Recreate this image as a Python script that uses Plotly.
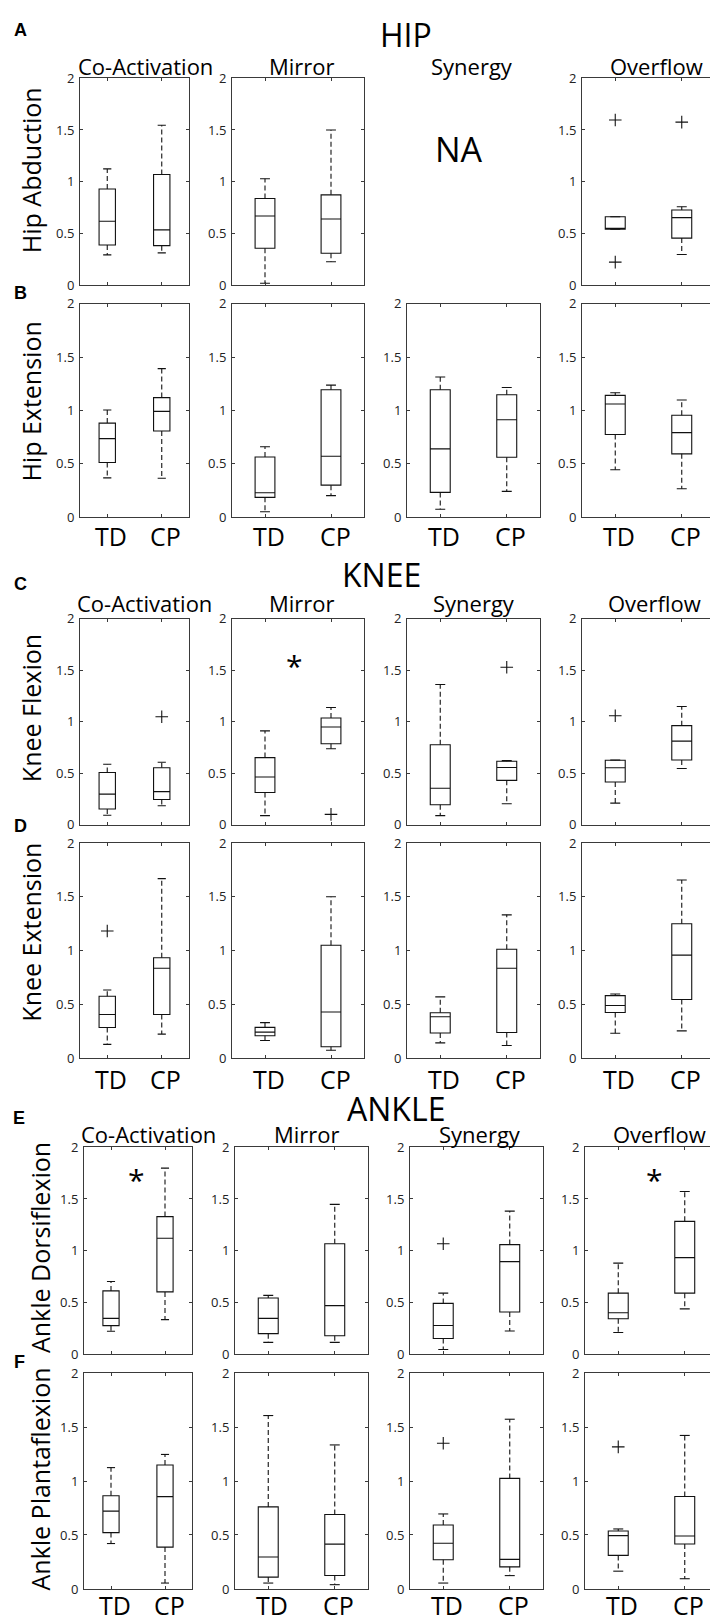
import plotly.graph_objects as go

W, H = 710, 1624

# ---------------- data ----------------
columns = ["Co-Activation", "Mirror", "Synergy", "Overflow"]
groups = ["TD", "CP"]
row_labels = ["Hip Abduction", "Hip Extension", "Knee Flexion",
              "Knee Extension", "Ankle Dorsiflexion", "Ankle Plantaflexion"]
panel_letters = ["A", "B", "C", "D", "E", "F"]
sections = ["HIP", "KNEE", "ANKLE"]
y_ticks = [0, 0.5, 1, 1.5, 2]
y_tick_text = ["0", "0.5", "1", "1.5", "2"]

# per column: [TD stats, CP stats]; stats = [lower whisker, q1, median, q3, upper whisker]
hip_abduction = [
    [[0.293, 0.389, 0.618, 0.930, 1.124], [0.312, 0.382, 0.535, 1.070, 1.545]],
    [[0.019, 0.357, 0.669, 0.838, 1.029], [0.226, 0.309, 0.640, 0.873, 1.500]],
    None,
    [[0.541, 0.541, 0.541, 0.662, 0.662], [0.296, 0.455, 0.653, 0.726, 0.758]],
]
hip_abduction_out = [[[], []], [[], []], None, [[1.596, 0.223], [1.576]]]

hip_extension = [
    [[0.369, 0.513, 0.737, 0.882, 1.005], [0.366, 0.808, 0.992, 1.121, 1.392]],
    [[0.052, 0.187, 0.230, 0.565, 0.661], [0.203, 0.301, 0.571, 1.195, 1.238]],
    [[0.075, 0.233, 0.641, 1.194, 1.313], [0.243, 0.563, 0.914, 1.148, 1.216]],
    [[0.445, 0.775, 1.061, 1.142, 1.166], [0.267, 0.594, 0.793, 0.955, 1.098]],
]
hip_extension_out = [[[], []], [[], []], [[], []], [[], []]]

knee_flexion = [
    [[0.093, 0.154, 0.298, 0.509, 0.589], [0.186, 0.246, 0.323, 0.554, 0.608]],
    [[0.090, 0.314, 0.464, 0.653, 0.912], [0.739, 0.787, 0.950, 1.037, 1.139]],
    [[0.090, 0.195, 0.355, 0.778, 1.363], [0.205, 0.432, 0.557, 0.618, 0.624]],
    [[0.211, 0.416, 0.554, 0.627, 0.630], [0.547, 0.630, 0.813, 0.963, 1.149]],
]
knee_flexion_out = [[[], [1.050]], [[], [0.102]], [[], [1.530]], [[1.059], []]]

knee_extension = [
    [[0.129, 0.285, 0.407, 0.576, 0.634], [0.224, 0.407, 0.836, 0.934, 1.669]],
    [[0.165, 0.209, 0.243, 0.287, 0.331], [0.074, 0.107, 0.429, 1.050, 1.500]],
    [[0.143, 0.235, 0.386, 0.423, 0.570], [0.119, 0.239, 0.836, 1.013, 1.332]],
    [[0.232, 0.425, 0.490, 0.582, 0.597], [0.254, 0.545, 0.958, 1.249, 1.656]],
]
knee_extension_out = [[[1.182], []], [[], []], [[], []], [[], []]]

ankle_dorsiflexion = [
    [[0.222, 0.276, 0.346, 0.612, 0.702], [0.334, 0.602, 1.120, 1.330, 1.798]],
    [[0.114, 0.199, 0.346, 0.543, 0.569], [0.114, 0.178, 0.470, 1.067, 1.448]],
    [[0.046, 0.152, 0.278, 0.491, 0.590], [0.225, 0.408, 0.895, 1.059, 1.383]],
    [[0.210, 0.343, 0.400, 0.590, 0.880], [0.438, 0.590, 0.933, 1.284, 1.573]],
]
ankle_dorsiflexion_out = [[[], []], [[], []], [[1.067], []], [[], []]]

ankle_plantaflexion = [
    [[0.421, 0.522, 0.721, 0.864, 1.124], [0.055, 0.388, 0.855, 1.148, 1.246]],
    [[0.055, 0.110, 0.296, 0.760, 1.606], [0.040, 0.125, 0.415, 0.690, 1.334]],
    [[0.055, 0.271, 0.424, 0.592, 0.695], [0.124, 0.205, 0.274, 1.024, 1.572]],
    [[0.165, 0.311, 0.494, 0.537, 0.556], [0.095, 0.417, 0.490, 0.856, 1.422]],
]
ankle_plantaflexion_out = [[[], []], [[], []], [[1.349], []], [[1.316], []]]

# significant differences (row index, column index)
significant = [(2, 1), (4, 0), (4, 3)]

# ---------------- layout / style ----------------
FONT = "Open Sans"
AXC = "#3a3a3a"
BOXC = "#111111"
TICKC = "#222222"

row_px = [(70, 279.3), (298, 514), (616.7, 825), (843.3, 1061),
          (1151, 1360.3), (1379.3, 1597.7)]
cols_top = [(80, 189), (232, 364), (407, 540), (582, 715)]
cols_bot = [(84, 192), (235, 368), (410, 543), (585, 718)]

title_rows = {0: 57.5, 2: 600.5, 4: 1137.5}
title_x = {0: [145, 302, 472, 656], 2: [144, 302, 474, 654], 4: [148, 307, 480, 659]}
group_label_y = {1: 533, 3: 1082, 5: 1614}
ylabel_pos = [(31, 163), (31, 397), (31, 707), (31, 934), (40, 1253), (40, 1487)]
letter_pos = [(20, 21), (20, 287), (20, 581), (20, 826), (19, 1121), (19, 1368)]
section_pos = [(406, 26), (382, 572), (396, 1111.5)]
star_pos = {(2, 1): (1.44, 1.60), (4, 0): (1.47, 1.74), (4, 3): (1.55, 1.74)}

all_stats = [hip_abduction, hip_extension, knee_flexion, knee_extension,
             ankle_dorsiflexion, ankle_plantaflexion]
all_out = [hip_abduction_out, hip_extension_out, knee_flexion_out, knee_extension_out,
           ankle_dorsiflexion_out, ankle_plantaflexion_out]

BOX_W = 0.3
CAP_HALF = 0.075

fig = go.Figure()
layout = dict(width=W, height=H, margin=dict(l=0, r=0, t=0, b=0), autosize=False,
              paper_bgcolor="white", plot_bgcolor="white", showlegend=False,
              boxmode="overlay")
annotations = []


def px_ann(text, x, y, size, angle=0, family=FONT, color="#000", **kw):
    d = dict(text=text, x=x / W, y=1 - y / H, xref="paper", yref="paper",
             showarrow=False, font=dict(family=family, size=size, color=color),
             textangle=angle, xanchor="center", yanchor="middle")
    d.update(kw)
    annotations.append(d)


k = 0
axis_of = {}
for r in range(6):
    cols = cols_top if r < 4 else cols_bot
    top, bot = row_px[r]
    for c in range(4):
        stats = all_stats[r][c]
        if stats is None:
            continue
        k += 1
        xa = "xaxis" if k == 1 else f"xaxis{k}"
        ya = "yaxis" if k == 1 else f"yaxis{k}"
        xr = "x" if k == 1 else f"x{k}"
        yr = "y" if k == 1 else f"y{k}"
        axis_of[(r, c)] = (xr, yr)
        left, right = cols[c]
        unit = (right - left) / 2.0
        vis_right = min(right, W)
        clipped = right > W
        x_hi = 0.5 + (vis_right - left) / unit
        layout[xa] = dict(domain=[left / W, vis_right / W], range=[0.5, x_hi],
                          anchor=yr, tickvals=[1, 2], showticklabels=False,
                          ticks="inside", ticklen=3, tickcolor=AXC, tickwidth=1,
                          showline=True, linecolor=AXC, linewidth=1, mirror="ticks",
                          showgrid=False, zeroline=False, fixedrange=True)
        layout[ya] = dict(domain=[1 - bot / H, 1 - top / H], range=[0, 2],
                          anchor=xr, tickvals=y_ticks, ticktext=y_tick_text,
                          ticks="inside", ticklen=3, tickcolor=AXC, tickwidth=1,
                          showline=True, linecolor=AXC, linewidth=1,
                          mirror=False if clipped else "ticks",
                          showgrid=False, zeroline=False, fixedrange=True,
                          ticklabelstandoff=2,
                          tickfont=dict(family=FONT, size=13, color=TICKC))

        wx, wy, cx, cy, ox, oy = [], [], [], [], [], []
        for g in range(2):
            lo, q1, med, q3, hi = stats[g]
            pos = g + 1
            fig.add_trace(go.Box(x=[pos], q1=[q1], median=[med], q3=[q3],
                                 lowerfence=[q1], upperfence=[q3], width=BOX_W,
                                 whiskerwidth=0, line=dict(color=BOXC, width=1.1),
                                 fillcolor="rgba(0,0,0,0)", hoverinfo="skip",
                                 xaxis=xr, yaxis=yr, showlegend=False))
            wx += [pos, pos, None, pos, pos, None]
            wy += [q3, hi, None, q1, lo, None]
            cx += [pos - CAP_HALF, pos + CAP_HALF, None, pos - CAP_HALF, pos + CAP_HALF, None]
            cy += [hi, hi, None, lo, lo, None]
            for v in all_out[r][c][g]:
                ox.append(pos)
                oy.append(v)
        fig.add_trace(go.Scatter(x=wx, y=wy, mode="lines", xaxis=xr, yaxis=yr,
                                 line=dict(color=BOXC, width=1.1, dash="5px,3px"),
                                 hoverinfo="skip", showlegend=False))
        fig.add_trace(go.Scatter(x=cx, y=cy, mode="lines", xaxis=xr, yaxis=yr,
                                 line=dict(color=BOXC, width=1.1),
                                 hoverinfo="skip", showlegend=False))
        if ox:
            fig.add_trace(go.Scatter(x=ox, y=oy, mode="markers", xaxis=xr, yaxis=yr,
                                     marker=dict(symbol="cross-thin", size=9,
                                                 line=dict(width=1.1, color=BOXC)),
                                     hoverinfo="skip", showlegend=False))

        # group labels under bottom rows of each pair
        if r in group_label_y:
            for g, name in enumerate(groups):
                annotations.append(dict(text=name, x=g + 1, xref=xr,
                                        y=1 - group_label_y[r] / H, yref="paper",
                                        showarrow=False, xshift=4,
                                        font=dict(family=FONT, size=25, color="#000"),
                                        xanchor="center", yanchor="middle"))

# column titles
for r, ty in title_rows.items():
    for c, name in enumerate(columns):
        px_ann(name, title_x[r][c], ty, 22)

# row y-labels
for r, name in enumerate(row_labels):
    x, y = ylabel_pos[r]
    px_ann(name, x, y, 25, angle=-90)

# panel letters
for r, L in enumerate(panel_letters):
    x, y = letter_pos[r]
    px_ann(f"<b>{L}</b>", x, y, 18, family="Liberation Sans")

# section headers
for s, name in enumerate(sections):
    x, y = section_pos[s]
    px_ann(name, x, y, 32)

# NA for missing panel
px_ann("NA", 459, 142, 34)

# significance stars
for (r, c) in significant:
    xr, yr = axis_of[(r, c)]
    sx, sy = star_pos[(r, c)]
    annotations.append(dict(text="*", x=sx, y=sy, xref=xr, yref=yr, showarrow=False,
                            font=dict(family=FONT, size=30, color="#000"),
                            xanchor="center", yanchor="middle", yshift=-5))

layout["annotations"] = annotations
fig.update_layout(**layout)
fig.write_html("out.html")
